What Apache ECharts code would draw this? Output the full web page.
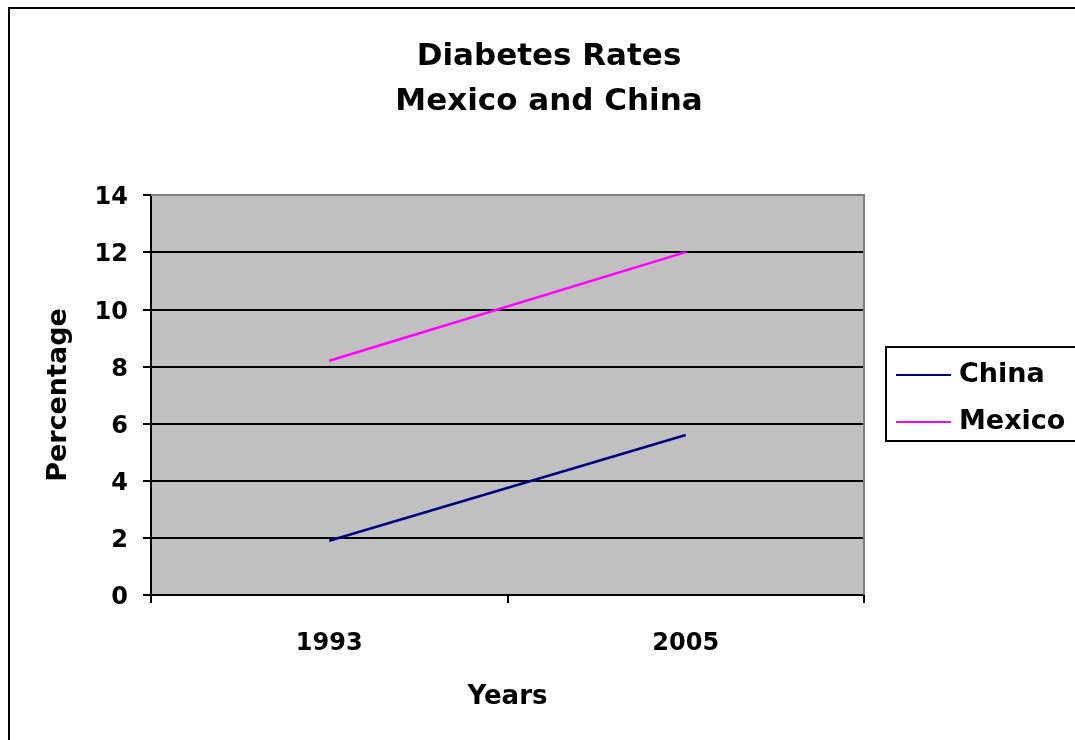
<!DOCTYPE html>
<html>
<head>
<meta charset="utf-8">
<style>
  html, body { margin: 0; padding: 0; background: #ffffff; }
  #chart { width: 1075px; height: 740px; }
</style>
<script src="https://cdn.jsdelivr.net/npm/echarts@6/dist/echarts.min.js"></script>
</head>
<body>
<div id="chart"></div>
<script>
// Diabetes prevalence (%) by survey year
const years = ['1993', '2005'];
const china = [1.9, 5.6];
const mexico = [8.2, 12.0];
const yTicks = { min: 0, max: 14, interval: 2 };
const titleLines = ['Diabetes Rates', 'Mexico and China'];

const FONT = '"DejaVu Sans", "Liberation Sans", Arial, sans-serif';

const chart = echarts.init(document.getElementById('chart'), null, { renderer: 'canvas' });

const titleStyle = {
  fontFamily: FONT,
  fontWeight: 'bold',
  fontSize: 31,
  fill: '#000000',
  textAlign: 'center',
  textVerticalAlign: 'middle'
};

const tickText = {
  fontFamily: FONT,
  fontWeight: 'bold',
  fontSize: 24,
  color: '#000000'
};

chart.setOption({
  animation: false,
  backgroundColor: '#ffffff',
  graphic: [
    {
      type: 'rect',
      shape: { x: 9, y: 8, width: 1200, height: 900 },
      style: { fill: null, stroke: '#000000', lineWidth: 2 },
      silent: true,
      z: 100
    },
    {
      // light frame on the top and right of the plot area
      type: 'polyline',
      shape: { points: [[151, 195], [864, 195], [864, 595]] },
      style: { stroke: '#808080', lineWidth: 2, fill: null },
      silent: true,
      z: 1
    },
    {
      type: 'text',
      x: 549,
      y: 57,
      style: Object.assign({ text: titleLines[0] }, titleStyle),
      silent: true
    },
    {
      type: 'text',
      x: 549,
      y: 102,
      style: Object.assign({ text: titleLines[1] }, titleStyle),
      silent: true
    }
  ],
  legend: {
    left: 886,
    top: 347,
    orient: 'vertical',
    padding: [13, 40, 4, 10],
    itemGap: 17,
    itemWidth: 55,
    itemHeight: 2,
    borderColor: '#000000',
    borderWidth: 2,
    backgroundColor: '#ffffff',
    data: [
      { name: 'China', icon: 'rect' },
      { name: 'Mexico', icon: 'rect' }
    ],
    textStyle: {
      fontFamily: FONT,
      fontWeight: 'bold',
      fontSize: 27,
      lineHeight: 30,
      color: '#000000',
      padding: [0, 0, 0, 3]
    }
  },
  grid: {
    left: 151,
    top: 195,
    width: 713,
    height: 400,
    show: true,
    backgroundColor: '#c0c0c0',
    borderWidth: 0
  },
  xAxis: {
    type: 'category',
    data: years,
    boundaryGap: true,
    name: 'Years',
    nameLocation: 'middle',
    nameGap: 89,
    nameTextStyle: { fontFamily: FONT, fontWeight: 'bold', fontSize: 26, color: '#000000' },
    axisLine: { lineStyle: { color: '#000000', width: 2 } },
    axisTick: { show: true, length: 8, alignWithLabel: false, lineStyle: { color: '#000000', width: 2 } },
    axisLabel: Object.assign({ margin: 37 }, tickText),
    splitLine: { show: false }
  },
  yAxis: {
    type: 'value',
    min: yTicks.min,
    max: yTicks.max,
    interval: yTicks.interval,
    name: 'Percentage',
    nameLocation: 'middle',
    nameGap: 79,
    nameRotate: 90,
    nameTextStyle: { fontFamily: FONT, fontWeight: 'bold', fontSize: 27, color: '#000000' },
    axisLine: { show: true, lineStyle: { color: '#000000', width: 2 } },
    axisTick: { show: true, length: 8, lineStyle: { color: '#000000', width: 2 } },
    axisLabel: Object.assign({
      margin: 23,
      formatter: function (v) { return '{v|' + v + '}'; },
      rich: { v: Object.assign({ padding: [6, 0, 0, 0] }, tickText) }
    }, tickText),
    splitLine: { show: true, lineStyle: { color: '#000000', width: 2 } }
  },
  series: [
    {
      name: 'China',
      type: 'line',
      data: china,
      symbol: 'none',
      lineStyle: { color: '#000080', width: 2.5 },
      itemStyle: { color: '#000080' },
      z: 5
    },
    {
      name: 'Mexico',
      type: 'line',
      data: mexico,
      symbol: 'none',
      lineStyle: { color: '#ff00ff', width: 2.5 },
      itemStyle: { color: '#ff00ff' },
      z: 5
    }
  ]
});
</script>
</body>
</html>
